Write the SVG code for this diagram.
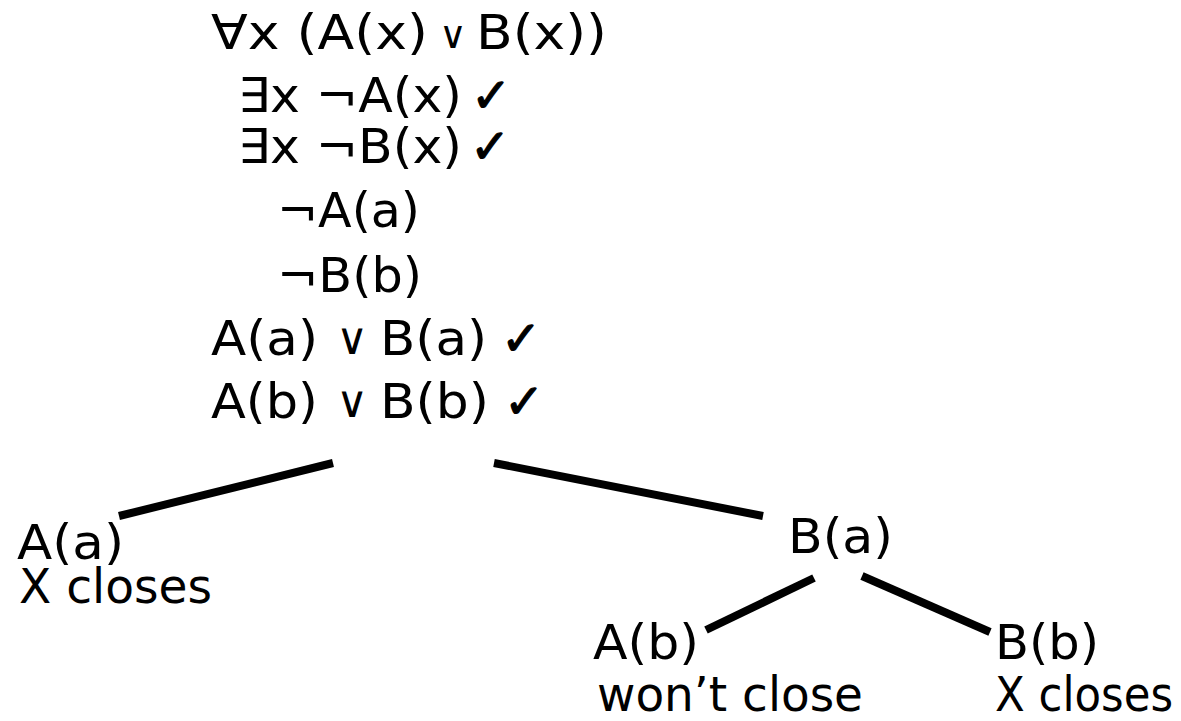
<svg xmlns="http://www.w3.org/2000/svg" width="1181" height="721" viewBox="0 0 1181 721">
<style>
text{font-family:"DejaVu Sans","Noto Sans",sans-serif;font-size:48px;fill:#000}
.or1{font-size:38px}
.or2{font-size:44px}
.ck{stroke:#000;stroke-width:1.2}
.edge{stroke:#000;stroke-width:8;fill:none}
</style>
<rect width="1181" height="721" fill="#fff"/>
<g id="trunk">
<text x="211" y="49" textLength="217" lengthAdjust="spacingAndGlyphs">∀x (A(x)</text>
<text x="439" y="48" class="or1">∨</text>
<text x="476" y="49" textLength="131" lengthAdjust="spacingAndGlyphs">B(x))</text>
<text x="238" y="112" textLength="224" lengthAdjust="spacingAndGlyphs">∃x ¬A(x)</text>
<text x="471" y="112" class="ck">✓</text>
<text x="238" y="163" textLength="224" lengthAdjust="spacingAndGlyphs">∃x ¬B(x)</text>
<text x="470" y="163" class="ck">✓</text>
<text x="277" y="227" textLength="143" lengthAdjust="spacingAndGlyphs">¬A(a)</text>
<text x="277" y="292" textLength="145" lengthAdjust="spacingAndGlyphs">¬B(b)</text>
<text x="211" y="355" textLength="107" lengthAdjust="spacingAndGlyphs">A(a)</text>
<text x="336" y="354" class="or2">∨</text>
<text x="380" y="355" textLength="107" lengthAdjust="spacingAndGlyphs">B(a)</text>
<text x="501" y="355" class="ck">✓</text>
<text x="211" y="418" textLength="107" lengthAdjust="spacingAndGlyphs">A(b)</text>
<text x="336" y="417" class="or2">∨</text>
<text x="380" y="418" textLength="109" lengthAdjust="spacingAndGlyphs">B(b)</text>
<text x="504" y="418" class="ck">✓</text>
</g>
<g id="node-Aa">
<text x="17" y="559" textLength="107" lengthAdjust="spacingAndGlyphs">A(a)</text>
<text x="19" y="603" textLength="193" lengthAdjust="spacingAndGlyphs">X closes</text>
</g>
<g id="node-Ba">
<text x="788" y="553" textLength="105" lengthAdjust="spacingAndGlyphs">B(a)</text>
</g>
<g id="node-Ab">
<text x="593" y="659" textLength="106" lengthAdjust="spacingAndGlyphs">A(b)</text>
<text x="597" y="711" textLength="266" lengthAdjust="spacingAndGlyphs">won’t close</text>
</g>
<g id="node-Bb">
<text x="995" y="659" textLength="104" lengthAdjust="spacingAndGlyphs">B(b)</text>
<text x="995" y="711" textLength="178" lengthAdjust="spacingAndGlyphs">X closes</text>
</g>
<g id="connectors">
<line class="edge" x1="333" y1="463" x2="119" y2="516"/>
<line class="edge" x1="494" y1="463" x2="763" y2="516"/>
<line class="edge" x1="814" y1="578" x2="706" y2="630"/>
<line class="edge" x1="862" y1="576" x2="990" y2="632"/>
</g>
</svg>
